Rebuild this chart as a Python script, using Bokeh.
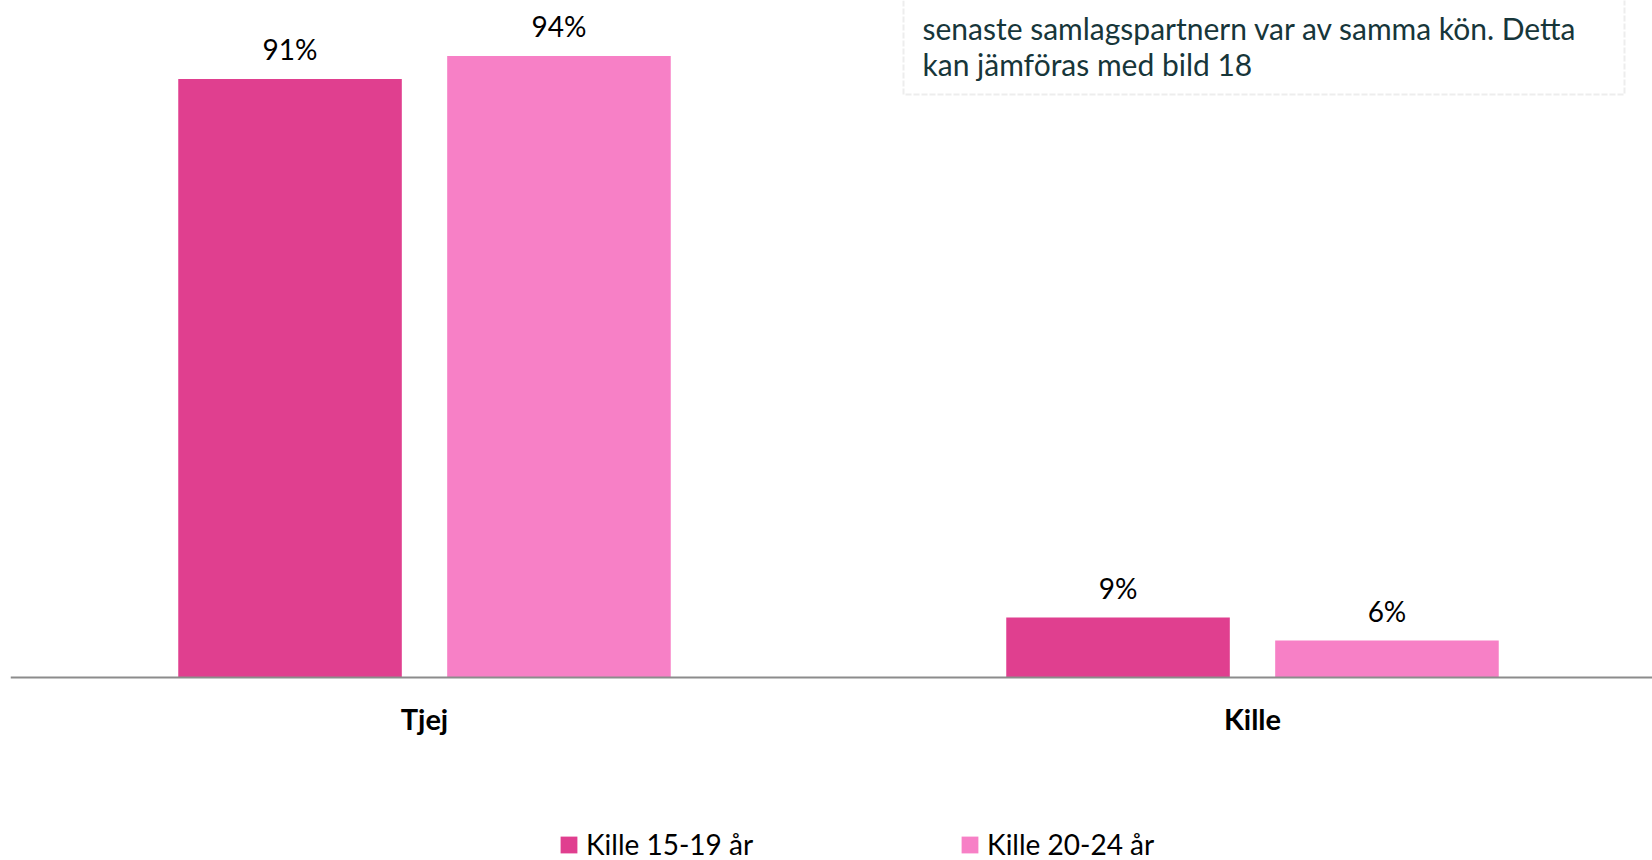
from bokeh.plotting import figure
from bokeh.models import Range1d, FixedTicker, BoxAnnotation, Legend, LegendItem, ColumnDataSource
from bokeh.core.properties import value
from bokeh.embed import file_html
from bokeh.resources import INLINE

# ---- data ----
categories = ["Tjej", "Kille"]
series_names = ["Kille 15-19 år", "Kille 20-24 år"]
values_15_19 = [90.9, 9.1]
values_20_24 = [94.4, 5.6]
colors = ["#E03F8F", "#F780C6"]
note_lines = [
    "senaste samlagspartnern var av samma kön. Detta",
    "kan jämföras med bild 18",
]

FONT = "Lato"
W, H = 1652, 860
LEFT = 10
PX_PER_CAT = 828.0
PX_PER_UNIT = 6.585
AXIS_Y = 677.0

x_end = (W - LEFT) / PX_PER_CAT
y_end = AXIS_Y / PX_PER_UNIT
y_start = y_end - H / PX_PER_UNIT

def xd(px):
    return (px - LEFT) / PX_PER_CAT

def yd(py):
    return (AXIS_Y - py) / PX_PER_UNIT

p = figure(width=W, height=H, output_backend="svg", toolbar_location=None,
           x_range=Range1d(0, x_end), y_range=Range1d(y_start, y_end),
           min_border_left=LEFT, min_border_right=0, min_border_top=0, min_border_bottom=0,
           outline_line_color=None, background_fill_color="white")
p.margin = (0, 0, 0, 0)
p.grid.visible = False
p.yaxis.visible = False

centers = [i + 0.5 for i in range(len(categories))]
offset = 0.1624
bar_w = 0.27

renderers = []
for k, (vals, col) in enumerate(zip([values_15_19, values_20_24], colors)):
    xs = [c + (offset if k else -offset) for c in centers]
    src = ColumnDataSource(dict(x=xs, top=vals,
                                lab=[f"{round(v):d}%" for v in vals]))
    r = p.vbar(x="x", top="top", bottom=0, width=bar_w, source=src,
               fill_color=col, line_color=None)
    renderers.append(r)
    p.text(x="x", y="top", text="lab", source=src, text_align="center",
           text_baseline="middle", y_offset=-30, text_font=value(FONT),
           text_font_size="28px", text_color="#000000")

# axis at zero
xa = p.xaxis[0]
xa.fixed_location = 0
xa.ticker = FixedTicker(ticks=centers)
xa.major_label_overrides = {c: n for c, n in zip(centers, categories)}
xa.major_tick_line_color = None
xa.minor_tick_line_color = None
xa.axis_line_color = "#8C8C8C"
xa.axis_line_width = 2
xa.major_label_standoff = 17
xa.major_label_text_font = FONT
xa.major_label_text_font_style = "bold"
xa.major_label_text_font_size = "29px"
xa.major_label_text_color = "#000000"

# note box
box = BoxAnnotation(left=xd(903), right=xd(1624), bottom=yd(94), top=yd(-40),
                    fill_color="white", fill_alpha=1.0, level="underlay",
                    line_color="#C4C4C4", line_width=2, line_dash="6 2")
p.add_layout(box)
p.text(x=[xd(922)] * len(note_lines), y=[yd(27 + 36 * i) for i in range(len(note_lines))],
       text=note_lines, text_align="left", text_baseline="middle",
       text_font=value(FONT), text_font_size="30px", text_color="#17363A")

legend = Legend(items=[LegendItem(label=n, renderers=[r]) for n, r in zip(series_names, renderers)],
                orientation="horizontal", location=(548, -1),
                glyph_width=21, glyph_height=21, label_standoff=7, spacing=206,
                padding=0, margin=0, border_line_alpha=0, background_fill_alpha=0,
                label_text_font=FONT, label_text_font_size="28px", label_text_color="#000000")
p.add_layout(legend)

open("out.html", "w").write(file_html(p, INLINE))
